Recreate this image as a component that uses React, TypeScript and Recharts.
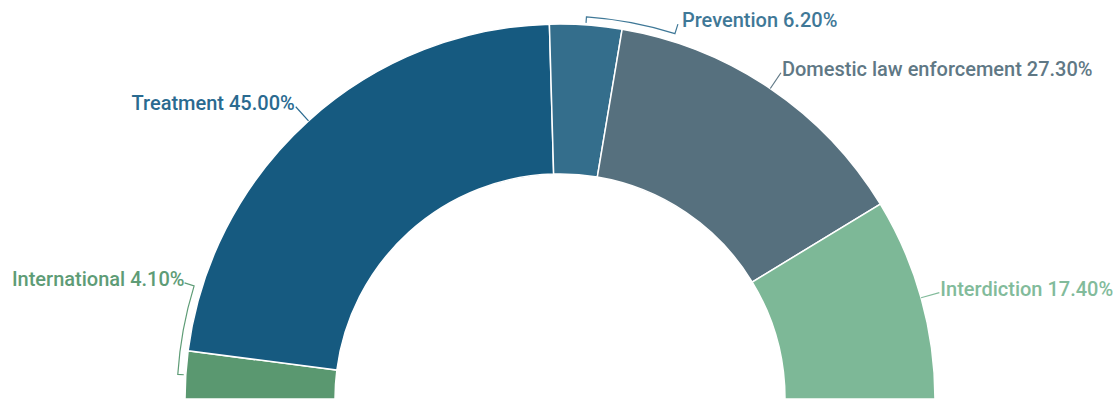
import { PieChart, Pie, Cell } from "recharts";

const categories = [
  "International",
  "Treatment",
  "Prevention",
  "Domestic law enforcement",
  "Interdiction",
];
const shares = [4.1, 45.0, 6.2, 27.3, 17.4];
const colors = ["#5a9870", "#165a80", "#346e8c", "#56707e", "#7db897"];
const textColors = ["#5e9c76", "#2a6a90", "#3f7897", "#5f7885", "#82bb9b"];

const data = categories.map((name, i) => ({ name, value: shares[i] }));

const RAD = Math.PI / 180;

const pt = (cx: number, cy: number, r: number, angle: number) => ({
  x: cx + r * Math.cos(angle * RAD),
  y: cy - r * Math.sin(angle * RAD),
});

const renderLabel = (props: any) => {
  const { cx, cy, midAngle, outerRadius, percent, name, value, index } = props;
  const color = textColors[index];
  const text = `${name} ${Number(value).toFixed(2)}%`;
  const font = { fontFamily: "Roboto, sans-serif", fontSize: 20, fontWeight: 500 };

  if (percent < 0.07) {
    // small slices get a bracket hugging the outer edge
    const a1 = midAngle;
    const a2 = midAngle - 13.5;
    const t0 = pt(cx, cy, outerRadius + 2, a1);
    const t1 = pt(cx, cy, outerRadius + 8, a1);
    const b = pt(cx, cy, outerRadius + 8, a2);
    const e = pt(cx, cy, outerRadius + 18, a2);
    const left = e.x < cx;
    const path = `M${t0.x},${t0.y} L${t1.x},${t1.y} A${outerRadius + 8},${outerRadius + 8} 0 0 1 ${b.x},${b.y} L${e.x},${e.y}`;
    return (
      <g>
        <path d={path} fill="none" stroke={color} strokeWidth={1.2} />
        <text
          x={e.x + (left ? 0 : 4)}
          y={e.y - 2.5}
          textAnchor={left ? "end" : "start"}
          dominantBaseline="middle"
          fill={color}
          {...font}
        >
          {text}
        </text>
      </g>
    );
  }

  const s = pt(cx, cy, outerRadius, midAngle);
  const e = pt(cx, cy, outerRadius + 19, midAngle);
  const left = e.x < cx;
  return (
    <g>
      <line x1={s.x} y1={s.y} x2={e.x} y2={e.y} stroke={color} strokeWidth={1.2} />
      <text
        x={e.x + (left ? -1 : 1)}
        y={e.y - 2}
        textAnchor={left ? "end" : "start"}
        dominantBaseline="middle"
        fill={color}
        {...font}
      >
        {text}
      </text>
    </g>
  );
};

const App = () => {
  return (
    <div style={{ position: "absolute", left: 0, top: 0, width: 1120, height: 402, background: "#fff" }}>
      <PieChart width={1120} height={402} margin={{ top: 0, right: 0, bottom: 0, left: 0 }}>
        <Pie
          data={data}
          dataKey="value"
          nameKey="name"
          cx={560}
          cy={399}
          startAngle={180}
          endAngle={0}
          innerRadius={225}
          outerRadius={375}
          stroke="#ffffff"
          strokeWidth={1.5}
          label={renderLabel}
          labelLine={false}
          isAnimationActive={false}
        >
          {data.map((d, i) => (
            <Cell key={d.name} fill={colors[i]} />
          ))}
        </Pie>
      </PieChart>
    </div>
  );
};

export default App;
